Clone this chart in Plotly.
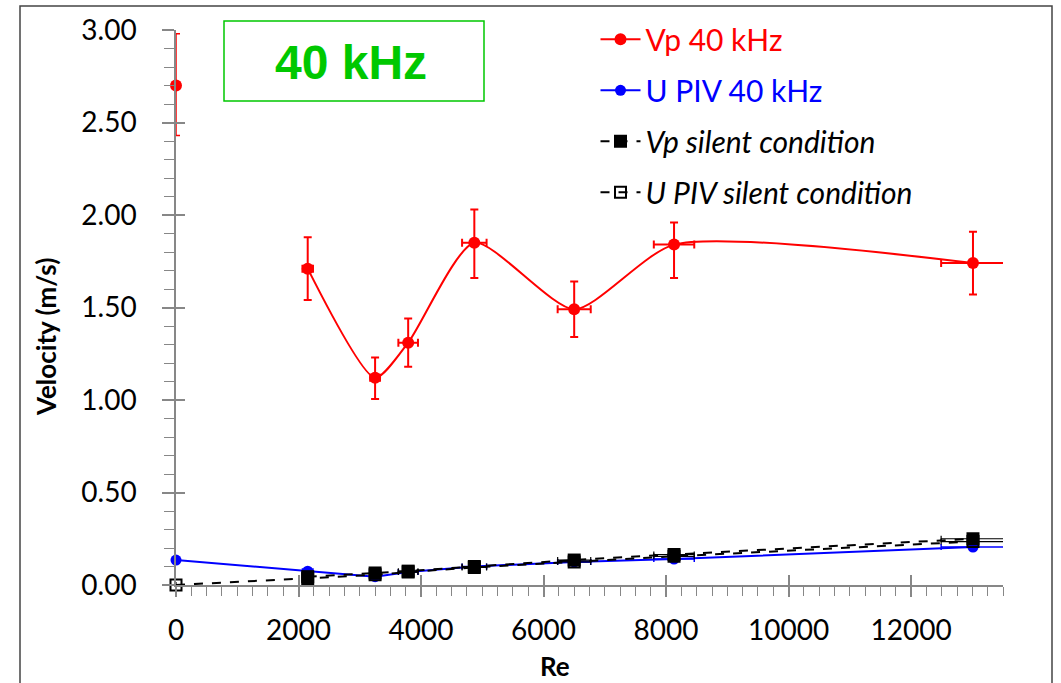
import plotly.graph_objects as go

# ---------------- data ----------------
re_vp = [2150, 3250, 3790, 4870, 6500, 8130, 13010]
vp_40 = [1.71, 1.12, 1.31, 1.85, 1.49, 1.84, 1.74]
vp_40_err_plus = [0.17, 0.11, 0.13, 0.18, 0.15, 0.12, 0.17]
vp_40_err_minus = [0.17, 0.115, 0.13, 0.19, 0.15, 0.18, 0.17]
re_err = [86, 80, 160, 200, 270, 330, 520]

re_zero = [0]
vp_40_zero = [2.70]
vp_40_zero_plus = [0.28]
vp_40_zero_minus = [0.27]

re_piv = [0, 2150, 3250, 3790, 4870, 6500, 8130, 13010]
upiv_40 = [0.135, 0.075, 0.045, 0.07, 0.10, 0.125, 0.14, 0.205]
upiv_40_xerr = [0, 86, 80, 160, 200, 270, 330, 520]

vp_silent = [0.045, 0.065, 0.075, 0.10, 0.135, 0.165, 0.25]
vp_silent_yerr = [0.01, 0.01, 0.01, 0.01, 0.012, 0.012, 0.015]
upiv_silent = [0.0, 0.035, 0.055, 0.07, 0.095, 0.125, 0.155, 0.235]
upiv_silent_yerr = [0.0, 0.01, 0.01, 0.01, 0.01, 0.012, 0.012, 0.015]

x_ticks = [0, 2000, 4000, 6000, 8000, 10000, 12000]
y_ticks = [0.0, 0.5, 1.0, 1.5, 2.0, 2.5, 3.0]

RED = "#ff0000"
BLUE = "#0000ff"
BLACK = "#000000"
GREEN = "#00c800"
AXIS = "#878787"
FONT = "Lato"

fig = go.Figure()

# blue (drawn first -> beneath)
fig.add_trace(go.Scatter(
    x=re_piv, y=upiv_40, mode="lines+markers",
    name="<span style='color:#0000ff'>U PIV 40 kHz</span>", legendgroup="b", legendrank=2,
    line=dict(color=BLUE, width=2),
    marker=dict(symbol="circle", size=11, color=BLUE),
    error_x=dict(type="data", array=upiv_40_xerr, color=BLUE, thickness=1.5, width=3),
    cliponaxis=False,
))
# black silent conditions
fig.add_trace(go.Scatter(
    x=re_piv, y=upiv_silent, mode="lines+markers",
    name="<i>U PIV silent condition</i>", legendgroup="d", legendrank=4,
    line=dict(color=BLACK, width=2, dash="dash"),
    marker=dict(symbol="square-open", size=11, color=BLACK, line=dict(width=2)),
    error_y=dict(type="data", array=upiv_silent_yerr, color=BLACK, thickness=1.2, width=3),
    error_x=dict(type="data", array=upiv_40_xerr, color=BLACK, thickness=1.2, width=3),
    cliponaxis=False,
))
fig.add_trace(go.Scatter(
    x=re_vp, y=vp_silent, mode="lines+markers",
    name="<i>Vp silent condition</i>", legendgroup="c", legendrank=3,
    line=dict(color=BLACK, width=2, dash="dash"),
    marker=dict(symbol="square", size=13, color=BLACK),
    error_y=dict(type="data", array=vp_silent_yerr, color=BLACK, thickness=1.2, width=3),
    error_x=dict(type="data", array=re_err, color=BLACK, thickness=1.2, width=3),
    cliponaxis=False,
))
# red
fig.add_trace(go.Scatter(
    x=re_vp, y=vp_40, mode="lines+markers",
    name="<span style='color:#ff0000'>Vp 40 kHz</span>", legendgroup="a", legendrank=1,
    line=dict(color=RED, width=2, shape="spline", smoothing=0.65),
    marker=dict(symbol="circle", size=12, color=RED),
    error_y=dict(type="data", symmetric=False, array=vp_40_err_plus,
                 arrayminus=vp_40_err_minus, color=RED, thickness=2, width=4),
    error_x=dict(type="data", array=re_err, color=RED, thickness=2, width=4),
    cliponaxis=False,
))
fig.add_trace(go.Scatter(
    x=re_zero, y=vp_40_zero, mode="markers", showlegend=False,
    marker=dict(symbol="circle", size=12, color=RED),
    error_y=dict(type="data", symmetric=False, array=vp_40_zero_plus,
                 arrayminus=vp_40_zero_minus, color=RED, thickness=1.5, width=4),
    cliponaxis=False,
))

tickfont = dict(family=FONT, size=28, color=BLACK)

fig.update_layout(
    width=1061, height=683,
    margin=dict(l=176, r=58, t=30, b=98),
    paper_bgcolor="white", plot_bgcolor="white",
    showlegend=True,
    legend=dict(
        x=0.5 + 6 / 827, y=1.03, xanchor="left", yanchor="top",
        font=dict(family=FONT, size=30, color=BLACK),
        bgcolor="rgba(0,0,0,0)", traceorder="grouped", tracegroupgap=9,
        itemwidth=40,
    ),
    xaxis=dict(
        range=[0, 13500], tickvals=x_ticks, ticktext=[str(v) for v in x_ticks],
        showgrid=False, zeroline=False, showline=True, linecolor=AXIS, linewidth=1.5,
        ticks="outside", ticklen=10, tickcolor=AXIS, tickwidth=1.5,
        minor=dict(dtick=250, ticks="outside", ticklen=9, tickcolor=AXIS, tickwidth=1),
        tickfont=tickfont, ticklabelstandoff=10,
    ),
    yaxis=dict(
        range=[0, 3.0], tickvals=y_ticks, ticktext=[f"{v:.2f}" for v in y_ticks],
        showgrid=False, zeroline=False, showline=True, linecolor=AXIS, linewidth=1.5,
        ticks="outside", ticklen=12, tickcolor=AXIS, tickwidth=1.5,
        minor=dict(dtick=0.1, ticks="outside", ticklen=10, tickcolor=AXIS, tickwidth=1),
        tickfont=tickfont, ticklabelstandoff=20,
    ),
    xaxis2=dict(
        range=[0, 13500], overlaying="x", anchor="y", side="bottom",
        tickvals=x_ticks, showticklabels=False, showgrid=False, zeroline=False,
        showline=False, ticks="inside", ticklen=10, tickcolor=AXIS, tickwidth=1.5,
    ),
    yaxis2=dict(
        range=[0, 3.0], overlaying="y", anchor="x", side="left",
        tickvals=y_ticks, showticklabels=False, showgrid=False, zeroline=False,
        showline=False, ticks="inside", ticklen=9, tickcolor=AXIS, tickwidth=1.5,
    ),
)

# dummy invisible trace so the overlay axes render
fig.add_trace(go.Scatter(x=[None], y=[None], xaxis="x2", yaxis="y2",
                         showlegend=False, hoverinfo="skip"))

# axis titles
fig.add_annotation(text="<b>Re</b>", xref="paper", yref="paper",
                   x=(555 - 176) / 827, y=(585 - 666) / 555, showarrow=False,
                   xanchor="center", yanchor="middle",
                   font=dict(family=FONT, size=26, color=BLACK))
fig.add_annotation(text="<b>Velocity (m/s)</b>", xref="paper", yref="paper",
                   x=(46 - 176) / 827, y=(585 - 337) / 555, showarrow=False, textangle=-90,
                   xanchor="center", yanchor="middle",
                   font=dict(family=FONT, size=26, color=BLACK))

# 40 kHz label box
fig.add_annotation(text="<b>40 kHz</b>", xref="paper", yref="paper",
                   x=(351 - 176) / 827, y=(585 - 63) / 555, showarrow=False,
                   xanchor="center", yanchor="middle",
                   font=dict(family="Liberation Sans", size=48, color=GREEN))
fig.add_shape(type="rect", xref="paper", yref="paper",
              x0=(224 - 176) / 827, x1=(484 - 176) / 827,
              y0=(585 - 101) / 555, y1=(585 - 21) / 555,
              line=dict(color=GREEN, width=1.5))

# outer frame
fig.add_shape(type="rect", xref="paper", yref="paper",
              x0=(20 - 176) / 827, x1=(1052 - 176) / 827,
              y0=(585 - 700) / 555, y1=(585 - 6) / 555,
              line=dict(color="#444444", width=1.5))

fig.write_html("out.html")
